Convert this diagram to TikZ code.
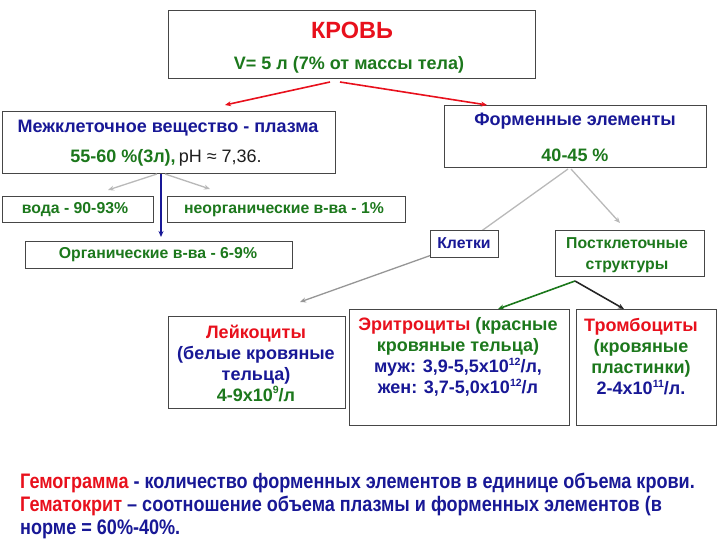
\documentclass[tikz,border=0pt]{standalone}
\usepackage{fontspec}
\setmainfont{Liberation Sans}
\newfontfamily\narrowfont[FakeStretch=0.86]{Liberation Sans}
\usetikzlibrary{arrows.meta,backgrounds}
\definecolor{cred}{RGB}{232,16,28}
\definecolor{cgreen}{RGB}{28,120,28}
\definecolor{cblue}{RGB}{24,24,150}
\definecolor{cbord}{RGB}{70,70,70}
\definecolor{cgrey}{RGB}{185,185,185}
\definecolor{cgreyd}{RGB}{150,150,150}
\definecolor{ctext}{RGB}{30,30,30}
\newcommand\supx[1]{\raisebox{0.75ex}{\fontsize{10.5}{10.5}\selectfont #1}}
\begin{document}
\begin{tikzpicture}[x=1pt,y=-1pt,
  box/.style={draw=cbord,line width=0.8pt,fill=white,anchor=north west,inner sep=0pt,outer sep=0pt},
  txt/.style={font=\bfseries\fontsize{18}{21}\selectfont,inner sep=0pt,align=center},
  stxt/.style={font=\bfseries\fontsize{15.8}{21}\selectfont,inner sep=0pt,align=center},
  btxt/.style={font=\narrowfont\bfseries\fontsize{21}{23}\selectfont,inner sep=0pt,anchor=west,text=cblue},
  tip/.style={-{Stealth[length=6pt,width=5pt]}},
  redarr/.style={tip,draw=cred,line width=1.6pt},
  greyarr/.style={tip,draw=cgrey,line width=1.3pt},
  greydarr/.style={tip,draw=cgreyd,line width=1.3pt},
  bluearr/.style={tip,draw=cblue,line width=1.6pt},
  greenarr/.style={tip,draw=cgreen,line width=1.6pt},
  blackarr/.style={tip,draw=black!85,line width=1.6pt}]
\useasboundingbox (0,0) rectangle (720,540);

% boxes
\node[box,minimum width=367pt,minimum height=68pt] (blood) at (168,10) {};
\node[box,minimum width=333pt,minimum height=62pt] (plasma) at (2,111) {};
\node[box,minimum width=262pt,minimum height=62pt] (form) at (444,105) {};
\node[box,minimum width=151pt,minimum height=26pt] (voda) at (2,196) {};
\node[box,minimum width=238pt,minimum height=26pt] (neorg) at (167,196) {};
\node[box,minimum width=267pt,minimum height=27pt] (org) at (25,241) {};
\node[box,minimum width=68pt,minimum height=27pt] (klet) at (430,230) {};
\node[box,minimum width=149pt,minimum height=46pt] (post) at (555,230) {};
\node[box,minimum width=177pt,minimum height=92pt] (leuk) at (168,316) {};
\node[box,minimum width=220pt,minimum height=116pt] (eryth) at (349,309) {};
\node[box,minimum width=140pt,minimum height=116pt] (thromb) at (576,309) {};

% texts
\node[txt,text=cred,font=\bfseries\fontsize{23.5}{26}\selectfont] (tblood) at (352,30) {КРОВЬ};
\node[txt,text=cgreen] (tvol) at (349,65) {V= 5 л (7\% от массы тела)};
\node[txt,text=cblue] (tpl1) at (168,128) {Межклеточное вещество - плазма};
\node[txt,text=cgreen] (tpl2) at (166,158) {55-60 \%(3л),\,{\mdseries\color{ctext} pH ≈ 7,36.}};
\node[txt,text=cblue] (tfo1) at (575,121) {Форменные элементы};
\node[txt,text=cgreen] (tfo2) at (575,155) {40-45 \%};
\node[stxt,text=cgreen] (tvoda) at (75,210) {вода - 90-93\%};
\node[stxt,text=cgreen] (tneorg) at (284,210) {неорганические в-ва - 1\%};
\node[stxt,text=cgreen] (torg) at (158,255) {Органические в-ва - 6-9\%};
\node[stxt,text=cblue] (tklet) at (464,243) {Клетки};
\node[stxt,text=cgreen] (tpost) at (627,255) {Постклеточные\\структуры};
\node[txt,text=cblue] (tleuk) at (256,363) {{\color{cred}Лейкоциты}\\(белые кровяные\\тельца)\\{\color{cgreen}4-9х10\supx{9}/л}};
\node[txt,text=cblue] (teryth) at (458,357) {{\color{cred}Эритроциты} {\color{cgreen}(красные}\\{\color{cgreen}кровяные тельца)}\\муж: 3,9-5,5х10\supx{12}/л,\\жен: 3,7-5,0х10\supx{12}/л};
\node[txt,text=cgreen] (tthromb) at (641,357) {{\color{cred}Тромбоциты}\\(кровяные\\пластинки)\\{\color{cblue}2-4х10\supx{11}/л.}};

\node[btxt] (hem1) at (20,483) {{\color{cred}Гемограмма} - количество форменных элементов в единице объема крови.};
\node[btxt] (hem2) at (20,506) {{\color{cred}Гематокрит} – соотношение объема плазмы и форменных элементов (в};
\node[btxt] (hem3) at (20,529) {норме = 60\%-40\%.};

% connector end points
\coordinate (bl) at (330,82);
\coordinate (br) at (340,82);
\coordinate (plt) at (225,105);
\coordinate (fot) at (487,105);
\coordinate (pls) at (161,174);
\coordinate (plsl) at (157,174);
\coordinate (plsr) at (165,174);
\coordinate (vodat) at (108,190);
\coordinate (neorgt) at (210,189);
\coordinate (orgt) at (161,237);
\coordinate (fos) at (568,169);
\coordinate (fos2) at (571,169);
\coordinate (postt) at (620,223);
\coordinate (leukt) at (300,302);
\coordinate (posts) at (575,281);
\coordinate (erytht) at (498,309);
\coordinate (thrombt) at (624,309);

\begin{pgfonlayer}{background}
\draw[draw=cgrey,line width=1.3pt] (fos) -- (klet.center);
\draw[greydarr] (klet.center) -- (leukt);
\end{pgfonlayer}
\draw[redarr] (bl) -- (plt);
\draw[redarr] (br) -- (fot);
\draw[greyarr] (plsl) -- (vodat);
\draw[greyarr] (plsr) -- (neorgt);
\draw[bluearr] (pls) -- (orgt);
\draw[greyarr] (fos2) -- (postt);
\draw[greenarr] (posts) -- (erytht);
\draw[blackarr] (posts) -- (thrombt);
\end{tikzpicture}
\end{document}
